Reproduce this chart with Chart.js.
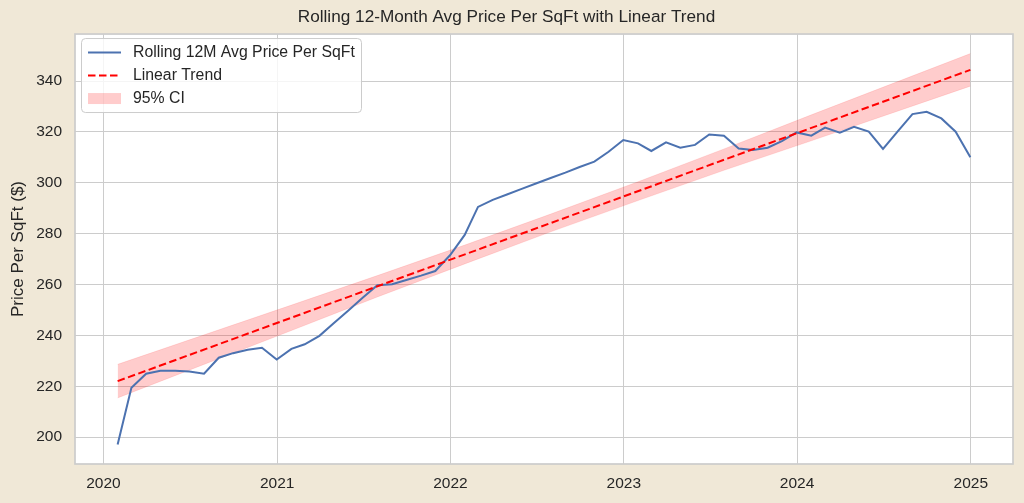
<!DOCTYPE html>
<html>
<head>
<meta charset="utf-8">
<script src="https://cdn.jsdelivr.net/npm/chart.js@4.4.0/dist/chart.umd.min.js"></script>
<style>
  body { margin: 0; background: #f0e8d7; }
</style>
</head>
<body>
<canvas id="trendChart" width="1024" height="503"></canvas>
<script>
// monthly points (month end)
var months = [
  '2020-01','2020-02','2020-03','2020-04','2020-05','2020-06','2020-07','2020-08','2020-09','2020-10','2020-11','2020-12',
  '2021-01','2021-02','2021-03','2021-04','2021-05','2021-06','2021-07','2021-08','2021-09','2021-10','2021-11','2021-12',
  '2022-01','2022-02','2022-03','2022-04','2022-05','2022-06','2022-07','2022-08','2022-09','2022-10','2022-11','2022-12',
  '2023-01','2023-02','2023-03','2023-04','2023-05','2023-06','2023-07','2023-08','2023-09','2023-10','2023-11','2023-12',
  '2024-01','2024-02','2024-03','2024-04','2024-05','2024-06','2024-07','2024-08','2024-09','2024-10','2024-11','2024-12'
];
var rollingAvg = [
  197.1, 219.4, 224.9, 226.1, 226.1, 225.8, 224.9, 231.2, 233.0, 234.3, 235.1, 230.5,
  234.7, 236.5, 239.8, 244.8, 249.8, 254.8, 259.7, 260.1, 261.8, 263.5, 265.3, 271.5,
  279.5, 290.5, 293.3, 295.4, 297.6, 299.7, 301.9, 304.0, 306.2, 308.3, 312.2, 316.8,
  315.5, 312.5, 315.9, 313.8, 314.9, 319.0, 318.5, 313.5, 312.9, 313.8, 316.4, 319.8,
  318.5, 321.7, 319.7, 322.0, 320.1, 313.3, 320.2, 327.0, 327.9, 325.3, 320.1, 310.0
];

var trendMonths = ['2020-01', '2024-12'];
var trendValues = [222.0, 344.4];

var ciMonths = ['2020-01','2021-01','2021-07','2022-01','2022-07','2023-01','2023-07','2024-01','2024-12'];
var ciUpper  = [228.6, 251.9, 263.5, 275.5, 287.7, 300.4, 313.3, 326.7, 350.8];
var ciLower  = [215.4, 241.9, 255.1, 268.1, 280.7, 293.0, 304.9, 316.5, 338.0];

var xTickYears = [2020, 2021, 2022, 2023, 2024, 2025];
var yTicks = [200, 220, 240, 260, 280, 300, 320, 340];

var textColor = '#262626';
var gridColor = '#cccccc';
var font = "'Liberation Sans', Arial, sans-serif";

function monthEnd(m) {
  var p = m.split('-');
  return Date.UTC(+p[0], +p[1], 0);
}
function toPoints(ms, vals) {
  return ms.map(function (m, i) { return { x: monthEnd(m), y: vals[i] }; });
}

var xs = months.map(monthEnd);
var xMin = xs[0], xMax = xs[xs.length - 1];
var xPad = (xMax - xMin) * 0.05;
var yLo = Math.min.apply(null, rollingAvg.concat(ciLower));
var yHi = Math.max.apply(null, rollingAvg.concat(ciUpper));
var yPad = (yHi - yLo) * 0.05;

var chartdata = {
  datasets: [
    {
      label: 'Rolling 12M Avg Price Per SqFt',
      data: toPoints(months, rollingAvg),
      borderColor: '#4c72b0',
      borderWidth: 2,
      pointRadius: 0,
      tension: 0,
      fill: false,
      order: 1
    },
    {
      label: 'Linear Trend',
      data: toPoints(trendMonths, trendValues),
      borderColor: '#ff0000',
      borderWidth: 2,
      borderDash: [7.5, 3.5],
      pointRadius: 0,
      fill: false,
      order: 0
    },
    {
      label: 'ci-lower',
      data: toPoints(ciMonths, ciLower),
      borderColor: 'rgba(255,0,0,0.2)',
      borderWidth: 0.5,
      pointRadius: 0,
      fill: false,
      order: 2
    },
    {
      label: '95% CI',
      data: toPoints(ciMonths, ciUpper),
      borderColor: 'rgba(255,0,0,0.2)',
      backgroundColor: 'rgba(255,0,0,0.2)',
      borderWidth: 0.5,
      pointRadius: 0,
      fill: '-1',
      order: 2
    }
  ]
};

// white plot area + light frame
var plotBg = {
  id: 'plotBg',
  beforeDraw: function (chart) {
    var c = chart.ctx, a = chart.chartArea;
    c.save();
    c.fillStyle = '#f0e8d7';
    c.fillRect(0, 0, chart.width, chart.height);
    c.fillStyle = '#ffffff';
    c.fillRect(a.left, a.top, a.right - a.left, a.bottom - a.top);
    c.restore();
  },
  afterDatasetsDraw: function (chart) {
    var c = chart.ctx, a = chart.chartArea;
    c.save();
    c.strokeStyle = gridColor;
    c.lineWidth = 1.7;
    c.strokeRect(a.left, a.top, a.right - a.left, a.bottom - a.top);
    c.restore();
  }
};

// matplotlib-like legend in the upper left
var boxLegend = {
  id: 'boxLegend',
  afterDraw: function (chart) {
    var c = chart.ctx, a = chart.chartArea;
    var x = a.left + 6.5, y = a.top + 4.5, w = 280, h = 74, r = 4;
    c.save();
    c.beginPath();
    c.roundRect(x, y, w, h, r);
    c.fillStyle = 'rgba(255,255,255,0.8)';
    c.fill();
    c.strokeStyle = gridColor;
    c.lineWidth = 1;
    c.stroke();

    var sx0 = a.left + 13, sx1 = a.left + 46, tx = a.left + 58;
    var rows = [a.top + 18.5, a.top + 41.5, a.top + 64.5];
    c.font = '15.8px ' + font;
    c.fillStyle = textColor;
    c.textBaseline = 'middle';

    c.strokeStyle = '#4c72b0';
    c.lineWidth = 2;
    c.beginPath(); c.moveTo(sx0, rows[0]); c.lineTo(sx1, rows[0]); c.stroke();
    c.fillText(chartdata.datasets[0].label, tx, rows[0]);

    c.strokeStyle = '#ff0000';
    c.setLineDash([7.5, 3.5]);
    c.beginPath(); c.moveTo(sx0, rows[1]); c.lineTo(sx1, rows[1]); c.stroke();
    c.setLineDash([]);
    c.fillText(chartdata.datasets[1].label, tx, rows[1]);

    c.fillStyle = 'rgba(255,0,0,0.2)';
    c.fillRect(sx0, rows[2] - 5.5, sx1 - sx0, 11);
    c.fillStyle = textColor;
    c.fillText(chartdata.datasets[3].label, tx, rows[2]);
    c.restore();
  }
};

var graphTarget = document.getElementById('trendChart');
var lineGraph = new Chart(graphTarget, {
  type: 'line',
  data: chartdata,
  plugins: [plotBg, boxLegend],
  options: {
    responsive: false,
    animation: false,
    layout: { padding: { left: 0, right: 11, top: 0, bottom: 0 } },
    plugins: {
      legend: { display: false },
      tooltip: { enabled: false },
      title: {
        display: true,
        text: 'Rolling 12-Month Avg Price Per SqFt with Linear Trend',
        color: textColor,
        font: { family: font, size: 17.2, weight: 'normal' },
        padding: { top: 6.7, bottom: 6.7 }
      }
    },
    scales: {
      x: {
        type: 'linear',
        min: xMin - xPad,
        max: xMax + xPad,
        afterBuildTicks: function (scale) {
          scale.ticks = xTickYears.map(function (yr) { return { value: Date.UTC(yr, 0, 1) }; });
        },
        afterFit: function (scale) { scale.height = 39; },
        grid: { color: gridColor, lineWidth: 1, drawTicks: false },
        border: { display: false },
        ticks: {
          color: textColor,
          font: { family: font, size: 15.5 },
          padding: 10,
          maxRotation: 0,
          callback: function (v) { return String(new Date(v).getUTCFullYear()); }
        }
      },
      y: {
        min: yLo - yPad,
        max: yHi + yPad,
        afterBuildTicks: function (scale) {
          scale.ticks = yTicks.map(function (v) { return { value: v }; });
        },
        afterFit: function (scale) { scale.width = 75; },
        grid: { color: gridColor, lineWidth: 1, drawTicks: false },
        border: { display: false },
        ticks: {
          color: textColor,
          font: { family: font, size: 15.5 },
          padding: 13
        },
        title: {
          display: true,
          text: 'Price Per SqFt ($)',
          color: textColor,
          font: { family: font, size: 17 },
          padding: { top: 8, bottom: 0 }
        }
      }
    }
  }
});
</script>
</body>
</html>
